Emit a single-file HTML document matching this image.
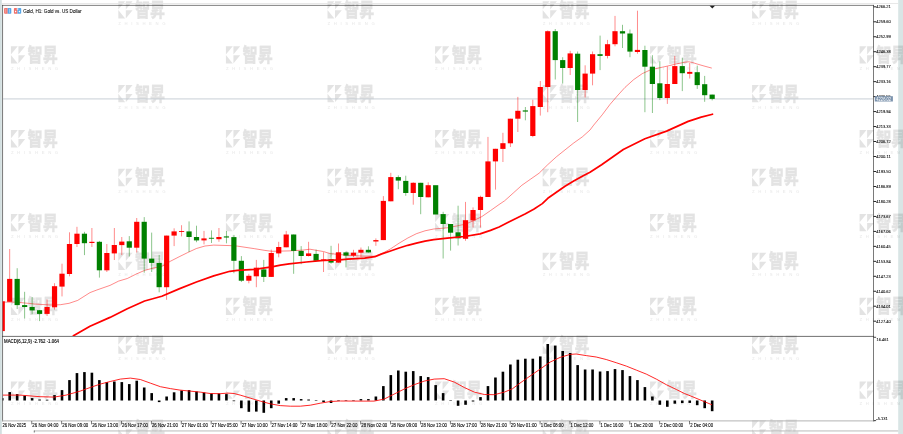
<!DOCTYPE html>
<html lang="en"><head><meta charset="utf-8"><title>Gold, H1: Gold vs. US Dollar</title>
<style>html,body{margin:0;padding:0;background:#fff;width:903px;height:434px;overflow:hidden}svg{display:block}text{font-family:"Liberation Sans","Noto Sans CJK SC",sans-serif}</style>
</head><body>
<svg width="903" height="434" viewBox="0 0 903 434">
<defs>
<g id="wm" class="wm" opacity="0.105">
<path d="M0 0H6.9L0 8.3Z M0 8.7L6.9 17.3H0Z M7.5 0H14.3L7.5 8.3Z M7.5 9H14.3L7.5 17.3Z"/>
<text transform="translate(16.7,15.6) scale(0.93,1.33)" font-size="14.6" font-weight="900" stroke="#000" stroke-width="0.25" textLength="32.4" lengthAdjust="spacingAndGlyphs">智昇</text>
<text x="0" y="23.7" font-size="4.3" font-weight="700" font-family="Liberation Sans" textLength="47.3" lengthAdjust="spacing" fill-opacity="0.75">ZHISHENG</text>
</g>
<filter id="bl" x="0" y="0" width="903" height="434" filterUnits="userSpaceOnUse"><feGaussianBlur stdDeviation="0.3"/></filter>
</defs>
<g filter="url(#bl)">
<rect width="903" height="434" fill="#fff"/>
<rect x="0" y="0" width="1.8" height="434" fill="#d3dfe0"/>
<rect x="898.2" y="0" width="4.8" height="434" fill="#d9e5e5"/>
<clipPath id="cw"><rect x="0" y="0" width="903" height="434"/></clipPath>
<g clip-path="url(#cw)">
<use href="#wm" x="10.90" y="46.30"/>
<use href="#wm" x="225.90" y="46.30"/>
<use href="#wm" x="435.06" y="46.30"/>
<use href="#wm" x="650.06" y="46.30"/>
<use href="#wm" x="859.60" y="46.30"/>
<use href="#wm" x="10.90" y="130.10"/>
<use href="#wm" x="225.90" y="130.10"/>
<use href="#wm" x="435.06" y="130.10"/>
<use href="#wm" x="650.06" y="130.10"/>
<use href="#wm" x="859.60" y="130.10"/>
<use href="#wm" x="10.90" y="213.90"/>
<use href="#wm" x="225.90" y="213.90"/>
<use href="#wm" x="435.06" y="213.90"/>
<use href="#wm" x="650.06" y="213.90"/>
<use href="#wm" x="859.60" y="213.90"/>
<use href="#wm" x="10.90" y="297.70"/>
<use href="#wm" x="225.90" y="297.70"/>
<use href="#wm" x="435.06" y="297.70"/>
<use href="#wm" x="650.06" y="297.70"/>
<use href="#wm" x="859.60" y="297.70"/>
<use href="#wm" x="10.90" y="381.50"/>
<use href="#wm" x="225.90" y="381.50"/>
<use href="#wm" x="435.06" y="381.50"/>
<use href="#wm" x="650.06" y="381.50"/>
<use href="#wm" x="859.60" y="381.50"/>
<use href="#wm" x="118.30" y="1.26"/>
<use href="#wm" x="327.50" y="1.26"/>
<use href="#wm" x="542.66" y="1.26"/>
<use href="#wm" x="752.05" y="1.26"/>
<use href="#wm" x="118.30" y="85.06"/>
<use href="#wm" x="327.50" y="85.06"/>
<use href="#wm" x="542.66" y="85.06"/>
<use href="#wm" x="752.05" y="85.06"/>
<use href="#wm" x="118.30" y="168.86"/>
<use href="#wm" x="327.50" y="168.86"/>
<use href="#wm" x="542.66" y="168.86"/>
<use href="#wm" x="752.05" y="168.86"/>
<use href="#wm" x="118.30" y="252.66"/>
<use href="#wm" x="327.50" y="252.66"/>
<use href="#wm" x="542.66" y="252.66"/>
<use href="#wm" x="752.05" y="252.66"/>
<use href="#wm" x="118.30" y="336.46"/>
<use href="#wm" x="327.50" y="336.46"/>
<use href="#wm" x="542.66" y="336.46"/>
<use href="#wm" x="752.05" y="336.46"/>
<use href="#wm" x="118.30" y="420.26"/>
<use href="#wm" x="327.50" y="420.26"/>
<use href="#wm" x="542.66" y="420.26"/>
<use href="#wm" x="752.05" y="420.26"/>
</g>
<rect x="2" y="3.1" width="896.2" height="0.9" fill="#e6e6e6"/>
<g fill="#000" fill-opacity="0.62">
<rect x="2.2" y="4.9" width="0.85" height="416.5"/>
<rect x="2.2" y="4.9" width="871.6" height="0.8"/>
<rect x="873.05" y="4.9" width="0.85" height="416.5"/>
<rect x="2.2" y="335.9" width="871.6" height="0.9"/>
</g>
<rect x="2.2" y="420.4" width="872.5" height="1.0" fill="#b4b4b4"/>
<rect x="34" y="430.5" width="864.2" height="0.9" fill="#b4b4b4"/>
<rect x="33.8" y="430.5" width="0.9" height="2" fill="#666"/>
<rect x="3" y="98.45" width="870" height="0.95" fill="#c5ccd4"/>
<clipPath id="cm"><rect x="2.7" y="5.7" width="870.3" height="330.2"/></clipPath>
<g clip-path="url(#cm)">
<polyline points="2.8,302.1 17.0,302.2 34.5,304.0 51.8,305.1 60.5,304.7 69.1,303.3 77.7,300.4 90.0,292.6 96.8,290.0 110.0,285.4 118.6,281.1 127.3,278.5 135.9,274.2 144.6,270.4 153.2,268.1 161.8,266.4 170.5,261.2 179.1,256.8 187.8,252.5 196.4,248.5 205.0,246.0 213.7,245.1 229.9,245.6 237.3,246.1 254.6,248.7 264.9,250.4 271.8,251.3 289.1,250.9 302.9,250.1 309.9,249.2 323.7,251.6 330.0,253.6 347.3,255.3 364.6,256.2 374.9,256.2 381.8,253.6 390.5,248.9 399.1,243.2 407.8,238.0 416.4,233.7 425.0,230.8 433.7,229.0 447.3,227.8 464.6,224.4 473.2,220.9 481.8,216.6 490.5,210.6 499.1,204.5 504.6,200.8 513.2,193.1 521.8,185.3 530.5,179.2 539.1,173.2 547.8,164.6 556.4,156.8 565.0,149.9 573.7,143.0 582.3,136.9 590.0,130.0 593.7,125.1 602.3,114.7 610.0,104.4 618.1,95.0 625.0,87.4 633.7,79.6 642.3,73.6 650.4,69.9 659.1,67.9 667.8,66.0 676.4,63.9 681.0,63.0 685.0,62.2 688.8,61.8 692.5,62.5 697.1,64.0 704.0,66.0 711.8,68.1" fill="none" stroke="#ff0000" stroke-opacity="0.62" stroke-width="0.75" stroke-linejoin="round"/>
<rect x="-0.37" y="301.3" width="5.2" height="29.8" fill="#ff0000"/>
<rect x="9.25" y="249.0" width="0.9" height="53.0" fill="#ff0000" fill-opacity="0.5"/>
<rect x="7.10" y="278.9" width="5.2" height="22.9" fill="#ff0000"/>
<rect x="16.72" y="268.2" width="0.9" height="40.8" fill="#008000" fill-opacity="0.5"/>
<rect x="14.57" y="278.9" width="5.2" height="26.2" fill="#008000"/>
<rect x="24.20" y="291.8" width="0.9" height="26.7" fill="#008000" fill-opacity="0.5"/>
<rect x="22.05" y="305.1" width="5.2" height="1.9" fill="#008000"/>
<rect x="31.67" y="297.0" width="0.9" height="17.2" fill="#008000" fill-opacity="0.5"/>
<rect x="29.52" y="307.0" width="5.2" height="3.4" fill="#008000"/>
<rect x="39.14" y="310.0" width="0.9" height="11.1" fill="#008000" fill-opacity="0.5"/>
<rect x="36.99" y="310.2" width="5.2" height="3.7" fill="#008000"/>
<rect x="46.61" y="299.5" width="0.9" height="16.5" fill="#ff0000" fill-opacity="0.5"/>
<rect x="44.46" y="307.0" width="5.2" height="6.9" fill="#ff0000"/>
<rect x="54.09" y="283.2" width="0.9" height="26.4" fill="#ff0000" fill-opacity="0.5"/>
<rect x="51.94" y="286.2" width="5.2" height="21.1" fill="#ff0000"/>
<rect x="61.56" y="263.7" width="0.9" height="32.7" fill="#ff0000" fill-opacity="0.5"/>
<rect x="59.41" y="273.7" width="5.2" height="12.9" fill="#ff0000"/>
<rect x="69.03" y="232.3" width="0.9" height="44.0" fill="#ff0000" fill-opacity="0.5"/>
<rect x="66.88" y="244.0" width="5.2" height="30.0" fill="#ff0000"/>
<rect x="76.51" y="226.8" width="0.9" height="20.2" fill="#ff0000" fill-opacity="0.5"/>
<rect x="74.36" y="233.7" width="5.2" height="10.3" fill="#ff0000"/>
<rect x="83.98" y="231.8" width="0.9" height="23.3" fill="#008000" fill-opacity="0.5"/>
<rect x="81.83" y="233.7" width="5.2" height="9.5" fill="#008000"/>
<rect x="91.45" y="228.0" width="0.9" height="19.0" fill="#ff0000" fill-opacity="0.5"/>
<rect x="89.30" y="241.8" width="5.2" height="1.2" fill="#ff0000"/>
<rect x="98.93" y="240.9" width="0.9" height="36.7" fill="#008000" fill-opacity="0.5"/>
<rect x="96.78" y="241.8" width="5.2" height="28.5" fill="#008000"/>
<rect x="106.40" y="244.0" width="0.9" height="28.0" fill="#ff0000" fill-opacity="0.5"/>
<rect x="104.25" y="253.0" width="5.2" height="17.3" fill="#ff0000"/>
<rect x="113.87" y="228.0" width="0.9" height="32.0" fill="#ff0000" fill-opacity="0.5"/>
<rect x="111.72" y="245.0" width="5.2" height="8.4" fill="#ff0000"/>
<rect x="121.34" y="237.0" width="0.9" height="18.1" fill="#ff0000" fill-opacity="0.5"/>
<rect x="119.20" y="241.6" width="5.2" height="3.5" fill="#ff0000"/>
<rect x="128.82" y="236.1" width="0.9" height="20.4" fill="#008000" fill-opacity="0.5"/>
<rect x="126.67" y="241.3" width="5.2" height="6.4" fill="#008000"/>
<rect x="136.29" y="218.0" width="0.9" height="34.5" fill="#ff0000" fill-opacity="0.5"/>
<rect x="134.14" y="221.8" width="5.2" height="25.9" fill="#ff0000"/>
<rect x="143.76" y="217.1" width="0.9" height="55.6" fill="#008000" fill-opacity="0.5"/>
<rect x="141.61" y="221.8" width="5.2" height="36.8" fill="#008000"/>
<rect x="151.24" y="232.6" width="0.9" height="39.4" fill="#008000" fill-opacity="0.5"/>
<rect x="149.09" y="258.6" width="5.2" height="4.3" fill="#008000"/>
<rect x="158.71" y="254.9" width="0.9" height="37.4" fill="#008000" fill-opacity="0.5"/>
<rect x="156.56" y="262.9" width="5.2" height="24.3" fill="#008000"/>
<rect x="166.18" y="235.6" width="0.9" height="64.2" fill="#ff0000" fill-opacity="0.5"/>
<rect x="164.03" y="235.6" width="5.2" height="51.6" fill="#ff0000"/>
<rect x="173.66" y="228.3" width="0.9" height="17.8" fill="#ff0000" fill-opacity="0.5"/>
<rect x="171.51" y="231.4" width="5.2" height="4.2" fill="#ff0000"/>
<rect x="181.13" y="225.2" width="0.9" height="11.2" fill="#ff0000" fill-opacity="0.5"/>
<rect x="178.98" y="231.0" width="5.2" height="0.9" fill="#ff0000"/>
<rect x="188.60" y="221.4" width="0.9" height="30.6" fill="#008000" fill-opacity="0.5"/>
<rect x="186.45" y="231.4" width="5.2" height="5.6" fill="#008000"/>
<rect x="196.07" y="225.7" width="0.9" height="16.5" fill="#008000" fill-opacity="0.5"/>
<rect x="193.92" y="237.0" width="5.2" height="3.4" fill="#008000"/>
<rect x="203.55" y="230.9" width="0.9" height="13.5" fill="#ff0000" fill-opacity="0.5"/>
<rect x="201.40" y="238.4" width="5.2" height="2.0" fill="#ff0000"/>
<rect x="211.02" y="230.4" width="0.9" height="12.6" fill="#008000" fill-opacity="0.5"/>
<rect x="208.87" y="237.8" width="5.2" height="0.9" fill="#008000"/>
<rect x="218.49" y="228.0" width="0.9" height="13.8" fill="#ff0000" fill-opacity="0.5"/>
<rect x="216.34" y="237.0" width="5.2" height="2.2" fill="#ff0000"/>
<rect x="225.97" y="231.0" width="0.9" height="12.3" fill="#008000" fill-opacity="0.5"/>
<rect x="223.82" y="236.4" width="5.2" height="1.1" fill="#008000"/>
<rect x="233.44" y="234.9" width="0.9" height="38.3" fill="#008000" fill-opacity="0.5"/>
<rect x="231.29" y="237.1" width="5.2" height="23.7" fill="#008000"/>
<rect x="240.91" y="256.1" width="0.9" height="25.9" fill="#008000" fill-opacity="0.5"/>
<rect x="238.76" y="260.8" width="5.2" height="19.9" fill="#008000"/>
<rect x="248.39" y="273.8" width="0.9" height="9.5" fill="#ff0000" fill-opacity="0.5"/>
<rect x="246.24" y="275.8" width="5.2" height="4.9" fill="#ff0000"/>
<rect x="255.86" y="259.9" width="0.9" height="27.3" fill="#ff0000" fill-opacity="0.5"/>
<rect x="253.71" y="267.7" width="5.2" height="8.6" fill="#ff0000"/>
<rect x="263.33" y="259.9" width="0.9" height="22.1" fill="#008000" fill-opacity="0.5"/>
<rect x="261.18" y="269.4" width="5.2" height="7.5" fill="#008000"/>
<rect x="270.81" y="249.6" width="0.9" height="27.3" fill="#ff0000" fill-opacity="0.5"/>
<rect x="268.65" y="253.0" width="5.2" height="23.9" fill="#ff0000"/>
<rect x="278.28" y="241.8" width="0.9" height="15.5" fill="#ff0000" fill-opacity="0.5"/>
<rect x="276.13" y="247.0" width="5.2" height="6.4" fill="#ff0000"/>
<rect x="285.75" y="230.9" width="0.9" height="16.4" fill="#ff0000" fill-opacity="0.5"/>
<rect x="283.60" y="234.5" width="5.2" height="12.8" fill="#ff0000"/>
<rect x="293.22" y="234.5" width="0.9" height="39.3" fill="#008000" fill-opacity="0.5"/>
<rect x="291.07" y="234.5" width="5.2" height="16.4" fill="#008000"/>
<rect x="300.70" y="246.1" width="0.9" height="18.1" fill="#008000" fill-opacity="0.5"/>
<rect x="298.55" y="250.9" width="5.2" height="5.1" fill="#008000"/>
<rect x="308.17" y="241.8" width="0.9" height="14.7" fill="#ff0000" fill-opacity="0.5"/>
<rect x="306.02" y="253.4" width="5.2" height="2.6" fill="#ff0000"/>
<rect x="315.64" y="249.6" width="0.9" height="12.1" fill="#008000" fill-opacity="0.5"/>
<rect x="313.49" y="253.9" width="5.2" height="6.9" fill="#008000"/>
<rect x="323.12" y="252.2" width="0.9" height="19.8" fill="#ff0000" fill-opacity="0.5"/>
<rect x="320.97" y="259.4" width="5.2" height="1.4" fill="#ff0000"/>
<rect x="330.59" y="245.8" width="0.9" height="17.9" fill="#008000" fill-opacity="0.5"/>
<rect x="328.44" y="259.2" width="5.2" height="3.4" fill="#008000"/>
<rect x="338.06" y="243.5" width="0.9" height="19.5" fill="#ff0000" fill-opacity="0.5"/>
<rect x="335.91" y="252.3" width="5.2" height="10.3" fill="#ff0000"/>
<rect x="345.53" y="251.5" width="0.9" height="15.9" fill="#008000" fill-opacity="0.5"/>
<rect x="343.38" y="252.4" width="5.2" height="3.2" fill="#008000"/>
<rect x="353.01" y="249.8" width="0.9" height="7.2" fill="#ff0000" fill-opacity="0.5"/>
<rect x="350.86" y="252.7" width="5.2" height="2.9" fill="#ff0000"/>
<rect x="360.48" y="247.5" width="0.9" height="9.5" fill="#ff0000" fill-opacity="0.5"/>
<rect x="358.33" y="249.8" width="5.2" height="2.9" fill="#ff0000"/>
<rect x="367.95" y="246.3" width="0.9" height="6.4" fill="#008000" fill-opacity="0.5"/>
<rect x="365.80" y="249.8" width="5.2" height="2.6" fill="#008000"/>
<rect x="375.43" y="238.4" width="0.9" height="7.4" fill="#ff0000" fill-opacity="0.5"/>
<rect x="373.28" y="240.1" width="5.2" height="1.4" fill="#ff0000"/>
<rect x="382.90" y="196.1" width="0.9" height="44.0" fill="#ff0000" fill-opacity="0.5"/>
<rect x="380.75" y="200.9" width="5.2" height="39.2" fill="#ff0000"/>
<rect x="390.37" y="172.8" width="0.9" height="28.5" fill="#ff0000" fill-opacity="0.5"/>
<rect x="388.22" y="177.1" width="5.2" height="24.2" fill="#ff0000"/>
<rect x="397.85" y="175.4" width="0.9" height="13.8" fill="#008000" fill-opacity="0.5"/>
<rect x="395.70" y="177.1" width="5.2" height="3.5" fill="#008000"/>
<rect x="405.32" y="175.7" width="0.9" height="20.1" fill="#008000" fill-opacity="0.5"/>
<rect x="403.17" y="180.9" width="5.2" height="12.1" fill="#008000"/>
<rect x="412.79" y="182.3" width="0.9" height="22.4" fill="#ff0000" fill-opacity="0.5"/>
<rect x="410.64" y="182.8" width="5.2" height="10.2" fill="#ff0000"/>
<rect x="420.26" y="182.8" width="0.9" height="31.4" fill="#008000" fill-opacity="0.5"/>
<rect x="418.11" y="182.8" width="5.2" height="14.2" fill="#008000"/>
<rect x="427.74" y="182.3" width="0.9" height="15.0" fill="#ff0000" fill-opacity="0.5"/>
<rect x="425.59" y="185.2" width="5.2" height="12.1" fill="#ff0000"/>
<rect x="433.06" y="185.2" width="5.2" height="29.3" fill="#008000"/>
<rect x="442.68" y="211.8" width="0.9" height="46.7" fill="#008000" fill-opacity="0.5"/>
<rect x="440.53" y="214.1" width="5.2" height="9.9" fill="#008000"/>
<rect x="450.16" y="224.0" width="0.9" height="26.6" fill="#008000" fill-opacity="0.5"/>
<rect x="448.01" y="224.0" width="5.2" height="8.7" fill="#008000"/>
<rect x="457.63" y="205.7" width="0.9" height="39.8" fill="#008000" fill-opacity="0.5"/>
<rect x="455.48" y="232.3" width="5.2" height="6.0" fill="#008000"/>
<rect x="465.10" y="201.9" width="0.9" height="38.9" fill="#ff0000" fill-opacity="0.5"/>
<rect x="462.95" y="220.2" width="5.2" height="18.6" fill="#ff0000"/>
<rect x="472.58" y="207.4" width="0.9" height="20.1" fill="#ff0000" fill-opacity="0.5"/>
<rect x="470.43" y="210.0" width="5.2" height="10.4" fill="#ff0000"/>
<rect x="480.05" y="195.7" width="0.9" height="31.8" fill="#ff0000" fill-opacity="0.5"/>
<rect x="477.90" y="196.9" width="5.2" height="13.1" fill="#ff0000"/>
<rect x="487.52" y="136.9" width="0.9" height="60.1" fill="#ff0000" fill-opacity="0.5"/>
<rect x="485.37" y="161.4" width="5.2" height="35.6" fill="#ff0000"/>
<rect x="495.00" y="148.8" width="0.9" height="40.8" fill="#ff0000" fill-opacity="0.5"/>
<rect x="492.84" y="148.8" width="5.2" height="12.6" fill="#ff0000"/>
<rect x="502.47" y="132.8" width="0.9" height="29.2" fill="#ff0000" fill-opacity="0.5"/>
<rect x="500.32" y="143.2" width="5.2" height="5.7" fill="#ff0000"/>
<rect x="509.94" y="118.7" width="0.9" height="28.3" fill="#ff0000" fill-opacity="0.5"/>
<rect x="507.79" y="118.7" width="5.2" height="24.6" fill="#ff0000"/>
<rect x="517.41" y="96.9" width="0.9" height="35.1" fill="#ff0000" fill-opacity="0.5"/>
<rect x="515.26" y="110.8" width="5.2" height="7.9" fill="#ff0000"/>
<rect x="524.89" y="107.0" width="0.9" height="13.3" fill="#008000" fill-opacity="0.5"/>
<rect x="522.74" y="110.4" width="5.2" height="1.2" fill="#008000"/>
<rect x="532.36" y="99.7" width="0.9" height="37.5" fill="#ff0000" fill-opacity="0.5"/>
<rect x="530.21" y="106.1" width="5.2" height="29.9" fill="#ff0000"/>
<rect x="539.83" y="81.0" width="0.9" height="34.6" fill="#ff0000" fill-opacity="0.5"/>
<rect x="537.68" y="87.0" width="5.2" height="20.0" fill="#ff0000"/>
<rect x="547.31" y="30.4" width="0.9" height="81.8" fill="#ff0000" fill-opacity="0.5"/>
<rect x="545.16" y="31.2" width="5.2" height="55.8" fill="#ff0000"/>
<rect x="554.78" y="29.0" width="0.9" height="50.5" fill="#008000" fill-opacity="0.5"/>
<rect x="552.63" y="31.2" width="5.2" height="28.9" fill="#008000"/>
<rect x="562.25" y="57.2" width="0.9" height="26.4" fill="#008000" fill-opacity="0.5"/>
<rect x="560.10" y="60.1" width="5.2" height="7.9" fill="#008000"/>
<rect x="569.73" y="50.8" width="0.9" height="24.2" fill="#ff0000" fill-opacity="0.5"/>
<rect x="567.58" y="53.4" width="5.2" height="14.6" fill="#ff0000"/>
<rect x="577.20" y="51.5" width="0.9" height="70.5" fill="#008000" fill-opacity="0.5"/>
<rect x="575.05" y="53.7" width="5.2" height="36.3" fill="#008000"/>
<rect x="584.67" y="65.3" width="0.9" height="32.2" fill="#ff0000" fill-opacity="0.5"/>
<rect x="582.52" y="73.6" width="5.2" height="16.4" fill="#ff0000"/>
<rect x="592.14" y="51.5" width="0.9" height="33.8" fill="#ff0000" fill-opacity="0.5"/>
<rect x="589.99" y="54.2" width="5.2" height="19.4" fill="#ff0000"/>
<rect x="599.62" y="35.6" width="0.9" height="34.5" fill="#008000" fill-opacity="0.5"/>
<rect x="597.47" y="54.2" width="5.2" height="1.7" fill="#008000"/>
<rect x="607.09" y="39.9" width="0.9" height="18.5" fill="#ff0000" fill-opacity="0.5"/>
<rect x="604.94" y="44.2" width="5.2" height="11.7" fill="#ff0000"/>
<rect x="614.56" y="15.9" width="0.9" height="30.4" fill="#ff0000" fill-opacity="0.5"/>
<rect x="612.41" y="31.2" width="5.2" height="13.0" fill="#ff0000"/>
<rect x="622.04" y="24.8" width="0.9" height="23.2" fill="#008000" fill-opacity="0.5"/>
<rect x="619.89" y="31.2" width="5.2" height="2.3" fill="#008000"/>
<rect x="629.51" y="29.5" width="0.9" height="27.7" fill="#008000" fill-opacity="0.5"/>
<rect x="627.36" y="33.5" width="5.2" height="18.1" fill="#008000"/>
<rect x="636.98" y="10.7" width="0.9" height="43.0" fill="#ff0000" fill-opacity="0.5"/>
<rect x="634.83" y="49.9" width="5.2" height="2.1" fill="#ff0000"/>
<rect x="644.46" y="45.7" width="0.9" height="66.5" fill="#008000" fill-opacity="0.5"/>
<rect x="642.31" y="50.0" width="5.2" height="16.7" fill="#008000"/>
<rect x="651.93" y="55.2" width="0.9" height="57.8" fill="#008000" fill-opacity="0.5"/>
<rect x="649.78" y="66.7" width="5.2" height="17.3" fill="#008000"/>
<rect x="659.40" y="61.2" width="0.9" height="38.9" fill="#008000" fill-opacity="0.5"/>
<rect x="657.25" y="83.3" width="5.2" height="14.7" fill="#008000"/>
<rect x="666.87" y="66.4" width="0.9" height="37.5" fill="#ff0000" fill-opacity="0.5"/>
<rect x="664.72" y="84.0" width="5.2" height="14.0" fill="#ff0000"/>
<rect x="674.35" y="56.0" width="0.9" height="28.0" fill="#ff0000" fill-opacity="0.5"/>
<rect x="672.20" y="66.1" width="5.2" height="17.9" fill="#ff0000"/>
<rect x="681.82" y="57.8" width="0.9" height="33.3" fill="#008000" fill-opacity="0.5"/>
<rect x="679.67" y="66.1" width="5.2" height="7.1" fill="#008000"/>
<rect x="689.29" y="63.0" width="0.9" height="15.5" fill="#ff0000" fill-opacity="0.5"/>
<rect x="687.14" y="71.9" width="5.2" height="1.9" fill="#ff0000"/>
<rect x="696.77" y="65.6" width="0.9" height="23.3" fill="#008000" fill-opacity="0.5"/>
<rect x="694.62" y="72.2" width="5.2" height="12.9" fill="#008000"/>
<rect x="704.24" y="75.9" width="0.9" height="25.9" fill="#008000" fill-opacity="0.5"/>
<rect x="702.09" y="84.2" width="5.2" height="11.0" fill="#008000"/>
<rect x="711.71" y="94.6" width="0.9" height="5.8" fill="#008000" fill-opacity="0.5"/>
<rect x="709.56" y="94.6" width="5.2" height="4.3" fill="#008000"/>
<polyline points="73.4,335.8 90.0,326.3 110.0,317.4 127.3,308.8 144.6,301.0 161.8,296.3 179.1,288.9 196.4,282.0 213.7,275.9 229.9,271.3 237.3,270.3 254.6,269.4 271.8,266.8 280.5,265.1 289.1,263.9 306.4,262.0 323.7,260.3 340.0,259.8 347.3,259.1 364.6,258.2 374.9,256.7 381.8,253.9 390.5,251.0 399.1,248.0 407.8,245.3 416.4,243.2 425.0,241.1 433.7,239.6 447.3,238.2 464.6,236.5 480.1,233.9 490.5,230.4 499.1,227.0 507.8,222.6 516.4,218.3 525.0,214.0 533.7,209.3 542.3,203.6 547.8,198.3 556.4,192.2 565.0,186.2 573.7,181.0 582.3,176.3 590.0,172.3 601.6,164.7 623.3,149.5 644.9,138.7 666.6,131.1 688.2,121.4 701.2,117.1 712.5,114.2" fill="none" stroke="#ff0000" stroke-width="1.7" stroke-linejoin="round" stroke-linecap="round"/>
</g>
<clipPath id="cd"><rect x="2.7" y="336.8" width="870.3" height="83.6"/></clipPath>
<g clip-path="url(#cd)">
<rect x="0.93" y="398.1" width="2.6" height="2.4" fill="#000"/>
<rect x="8.40" y="392.1" width="2.6" height="8.4" fill="#000"/>
<rect x="15.87" y="394.1" width="2.6" height="6.4" fill="#000"/>
<rect x="23.35" y="395.7" width="2.6" height="4.8" fill="#000"/>
<rect x="30.82" y="398.1" width="2.6" height="2.4" fill="#000"/>
<rect x="38.29" y="399.5" width="2.6" height="1.0" fill="#000"/>
<rect x="45.77" y="399.7" width="2.6" height="0.8" fill="#000"/>
<rect x="53.24" y="395.1" width="2.6" height="5.4" fill="#000"/>
<rect x="60.71" y="390.1" width="2.6" height="10.4" fill="#000"/>
<rect x="68.18" y="380.1" width="2.6" height="20.4" fill="#000"/>
<rect x="75.66" y="373.1" width="2.6" height="27.4" fill="#000"/>
<rect x="83.13" y="372.1" width="2.6" height="28.4" fill="#000"/>
<rect x="90.60" y="372.7" width="2.6" height="27.8" fill="#000"/>
<rect x="98.08" y="380.1" width="2.6" height="20.4" fill="#000"/>
<rect x="105.55" y="382.1" width="2.6" height="18.4" fill="#000"/>
<rect x="113.02" y="381.5" width="2.6" height="19.0" fill="#000"/>
<rect x="120.50" y="382.1" width="2.6" height="18.4" fill="#000"/>
<rect x="127.97" y="384.1" width="2.6" height="16.4" fill="#000"/>
<rect x="135.44" y="380.7" width="2.6" height="19.8" fill="#000"/>
<rect x="142.91" y="387.5" width="2.6" height="13.0" fill="#000"/>
<rect x="150.39" y="393.1" width="2.6" height="7.4" fill="#000"/>
<rect x="157.86" y="400.5" width="2.6" height="1.6" fill="#000"/>
<rect x="165.33" y="396.5" width="2.6" height="4.0" fill="#000"/>
<rect x="172.81" y="392.3" width="2.6" height="8.2" fill="#000"/>
<rect x="180.28" y="390.5" width="2.6" height="10.0" fill="#000"/>
<rect x="187.75" y="390.1" width="2.6" height="10.4" fill="#000"/>
<rect x="195.22" y="391.5" width="2.6" height="9.0" fill="#000"/>
<rect x="202.70" y="392.5" width="2.6" height="8.0" fill="#000"/>
<rect x="210.17" y="393.5" width="2.6" height="7.0" fill="#000"/>
<rect x="217.64" y="393.5" width="2.6" height="7.0" fill="#000"/>
<rect x="225.12" y="394.1" width="2.6" height="6.4" fill="#000"/>
<rect x="232.59" y="400.5" width="2.6" height="0.7" fill="#000"/>
<rect x="240.06" y="400.5" width="2.6" height="7.7" fill="#000"/>
<rect x="247.54" y="400.5" width="2.6" height="11.3" fill="#000"/>
<rect x="255.01" y="400.5" width="2.6" height="11.1" fill="#000"/>
<rect x="262.48" y="400.5" width="2.6" height="12.3" fill="#000"/>
<rect x="269.95" y="400.5" width="2.6" height="7.7" fill="#000"/>
<rect x="277.43" y="400.5" width="2.6" height="3.2" fill="#000"/>
<rect x="284.90" y="398.1" width="2.6" height="2.4" fill="#000"/>
<rect x="292.37" y="398.1" width="2.6" height="2.4" fill="#000"/>
<rect x="299.85" y="399.1" width="2.6" height="1.4" fill="#000"/>
<rect x="307.32" y="399.5" width="2.6" height="1.0" fill="#000"/>
<rect x="314.79" y="400.0" width="2.6" height="0.5" fill="#000"/>
<rect x="322.27" y="400.5" width="2.6" height="1.6" fill="#000"/>
<rect x="329.74" y="400.5" width="2.6" height="2.5" fill="#000"/>
<rect x="337.21" y="400.5" width="2.6" height="0.5" fill="#000"/>
<rect x="344.68" y="400.1" width="2.6" height="0.8" fill="#000" fill-opacity="0.6"/>
<rect x="352.16" y="400.1" width="2.6" height="0.8" fill="#000" fill-opacity="0.6"/>
<rect x="359.63" y="399.1" width="2.6" height="1.4" fill="#000"/>
<rect x="367.10" y="399.1" width="2.6" height="1.4" fill="#000"/>
<rect x="374.58" y="396.5" width="2.6" height="4.0" fill="#000"/>
<rect x="382.05" y="386.1" width="2.6" height="14.4" fill="#000"/>
<rect x="389.52" y="375.1" width="2.6" height="25.4" fill="#000"/>
<rect x="397.00" y="370.5" width="2.6" height="30.0" fill="#000"/>
<rect x="404.47" y="371.7" width="2.6" height="28.8" fill="#000"/>
<rect x="411.94" y="371.1" width="2.6" height="29.4" fill="#000"/>
<rect x="419.41" y="376.1" width="2.6" height="24.4" fill="#000"/>
<rect x="426.89" y="377.1" width="2.6" height="23.4" fill="#000"/>
<rect x="434.36" y="385.1" width="2.6" height="15.4" fill="#000"/>
<rect x="441.83" y="393.1" width="2.6" height="7.4" fill="#000"/>
<rect x="449.31" y="400.1" width="2.6" height="0.8" fill="#000" fill-opacity="0.6"/>
<rect x="456.78" y="400.5" width="2.6" height="5.3" fill="#000"/>
<rect x="464.25" y="400.5" width="2.6" height="4.3" fill="#000"/>
<rect x="471.73" y="400.5" width="2.6" height="1.0" fill="#000"/>
<rect x="479.20" y="397.1" width="2.6" height="3.4" fill="#000"/>
<rect x="486.67" y="386.1" width="2.6" height="14.4" fill="#000"/>
<rect x="494.14" y="377.5" width="2.6" height="23.0" fill="#000"/>
<rect x="501.62" y="371.7" width="2.6" height="28.8" fill="#000"/>
<rect x="509.09" y="364.5" width="2.6" height="36.0" fill="#000"/>
<rect x="516.56" y="359.7" width="2.6" height="40.8" fill="#000"/>
<rect x="524.04" y="358.7" width="2.6" height="41.8" fill="#000"/>
<rect x="531.51" y="358.7" width="2.6" height="41.8" fill="#000"/>
<rect x="538.98" y="356.4" width="2.6" height="44.1" fill="#000"/>
<rect x="546.46" y="344.0" width="2.6" height="56.5" fill="#000"/>
<rect x="553.93" y="345.6" width="2.6" height="54.9" fill="#000"/>
<rect x="561.40" y="351.0" width="2.6" height="49.5" fill="#000"/>
<rect x="568.88" y="353.0" width="2.6" height="47.5" fill="#000"/>
<rect x="576.35" y="365.1" width="2.6" height="35.4" fill="#000"/>
<rect x="583.82" y="369.5" width="2.6" height="31.0" fill="#000"/>
<rect x="591.29" y="369.5" width="2.6" height="31.0" fill="#000"/>
<rect x="598.77" y="371.5" width="2.6" height="29.0" fill="#000"/>
<rect x="606.24" y="371.1" width="2.6" height="29.4" fill="#000"/>
<rect x="613.71" y="369.1" width="2.6" height="31.4" fill="#000"/>
<rect x="621.19" y="370.1" width="2.6" height="30.4" fill="#000"/>
<rect x="628.66" y="376.1" width="2.6" height="24.4" fill="#000"/>
<rect x="636.13" y="380.1" width="2.6" height="20.4" fill="#000"/>
<rect x="643.61" y="387.1" width="2.6" height="13.4" fill="#000"/>
<rect x="651.08" y="396.5" width="2.6" height="4.0" fill="#000"/>
<rect x="658.55" y="400.5" width="2.6" height="4.3" fill="#000"/>
<rect x="666.02" y="400.5" width="2.6" height="6.3" fill="#000"/>
<rect x="673.50" y="400.5" width="2.6" height="3.2" fill="#000"/>
<rect x="680.97" y="400.5" width="2.6" height="2.6" fill="#000"/>
<rect x="688.44" y="400.5" width="2.6" height="2.4" fill="#000"/>
<rect x="695.92" y="400.5" width="2.6" height="4.7" fill="#000"/>
<rect x="703.39" y="400.5" width="2.6" height="7.7" fill="#000"/>
<rect x="710.86" y="400.5" width="2.6" height="10.7" fill="#000"/>
<polyline points="2.8,395.1 20.0,395.1 40.1,396.7 54.1,397.1 66.1,395.1 80.2,391.1 90.2,387.5 100.2,384.1 110.2,381.5 120.3,379.1 130.3,378.1 140.3,379.5 150.3,383.1 160.4,386.7 170.4,388.6 180.0,390.1 190.0,391.1 200.1,392.1 210.1,393.5 220.1,393.7 228.1,393.1 234.1,393.5 240.2,395.1 250.2,398.1 260.2,401.1 270.2,403.8 280.2,405.6 290.3,406.2 300.3,406.2 310.3,405.2 320.3,403.2 330.4,401.5 340.4,401.0 360.0,401.1 374.1,401.1 384.1,399.1 394.1,394.1 404.1,389.1 414.2,384.7 424.2,381.1 434.2,379.1 444.2,378.7 454.3,382.1 464.3,387.5 474.3,392.1 484.3,394.5 494.3,394.7 504.4,392.1 512.4,388.8 520.0,383.1 530.0,376.1 540.1,369.1 550.1,362.1 560.1,357.4 570.1,354.4 576.1,354.0 586.2,355.6 596.2,357.0 606.2,359.5 616.2,362.7 626.3,366.1 636.3,370.1 646.3,374.1 656.3,379.1 666.3,384.7 676.4,389.5 684.4,393.5 690.0,395.7 712.0,404.8" fill="none" stroke="#ff0000" stroke-width="0.85" stroke-linejoin="round"/>
</g>
<g font-size="4.3" fill="#000" stroke="#000" stroke-width="0.07">
<rect x="873.5" y="6.40" width="2.6" height="0.9" fill="#000" fill-opacity="0.95" stroke="none"/>
<text x="876.2" y="8.35" textLength="14.6" lengthAdjust="spacingAndGlyphs">4266.21</text>
<rect x="873.5" y="21.37" width="2.6" height="0.9" fill="#000" fill-opacity="0.95" stroke="none"/>
<text x="876.2" y="23.32" textLength="14.6" lengthAdjust="spacingAndGlyphs">4259.60</text>
<rect x="873.5" y="36.33" width="2.6" height="0.9" fill="#000" fill-opacity="0.95" stroke="none"/>
<text x="876.2" y="38.28" textLength="14.6" lengthAdjust="spacingAndGlyphs">4252.99</text>
<rect x="873.5" y="51.30" width="2.6" height="0.9" fill="#000" fill-opacity="0.95" stroke="none"/>
<text x="876.2" y="53.25" textLength="14.6" lengthAdjust="spacingAndGlyphs">4246.38</text>
<rect x="873.5" y="66.27" width="2.6" height="0.9" fill="#000" fill-opacity="0.95" stroke="none"/>
<text x="876.2" y="68.22" textLength="14.6" lengthAdjust="spacingAndGlyphs">4239.77</text>
<rect x="873.5" y="81.23" width="2.6" height="0.9" fill="#000" fill-opacity="0.95" stroke="none"/>
<text x="876.2" y="83.19" textLength="14.6" lengthAdjust="spacingAndGlyphs">4233.16</text>
<rect x="873.5" y="96.20" width="2.6" height="0.9" fill="#000" fill-opacity="0.95" stroke="none"/>
<text x="876.2" y="98.15" textLength="14.6" lengthAdjust="spacingAndGlyphs">4226.55</text>
<rect x="873.5" y="111.17" width="2.6" height="0.9" fill="#000" fill-opacity="0.95" stroke="none"/>
<text x="876.2" y="113.12" textLength="14.6" lengthAdjust="spacingAndGlyphs">4219.94</text>
<rect x="873.5" y="126.14" width="2.6" height="0.9" fill="#000" fill-opacity="0.95" stroke="none"/>
<text x="876.2" y="128.09" textLength="14.6" lengthAdjust="spacingAndGlyphs">4213.33</text>
<rect x="873.5" y="141.10" width="2.6" height="0.9" fill="#000" fill-opacity="0.95" stroke="none"/>
<text x="876.2" y="143.05" textLength="14.6" lengthAdjust="spacingAndGlyphs">4206.72</text>
<rect x="873.5" y="156.07" width="2.6" height="0.9" fill="#000" fill-opacity="0.95" stroke="none"/>
<text x="876.2" y="158.02" textLength="14.6" lengthAdjust="spacingAndGlyphs">4200.11</text>
<rect x="873.5" y="171.04" width="2.6" height="0.9" fill="#000" fill-opacity="0.95" stroke="none"/>
<text x="876.2" y="172.99" textLength="14.6" lengthAdjust="spacingAndGlyphs">4193.50</text>
<rect x="873.5" y="186.00" width="2.6" height="0.9" fill="#000" fill-opacity="0.95" stroke="none"/>
<text x="876.2" y="187.95" textLength="14.6" lengthAdjust="spacingAndGlyphs">4186.89</text>
<rect x="873.5" y="200.97" width="2.6" height="0.9" fill="#000" fill-opacity="0.95" stroke="none"/>
<text x="876.2" y="202.92" textLength="14.6" lengthAdjust="spacingAndGlyphs">4180.28</text>
<rect x="873.5" y="215.94" width="2.6" height="0.9" fill="#000" fill-opacity="0.95" stroke="none"/>
<text x="876.2" y="217.89" textLength="14.6" lengthAdjust="spacingAndGlyphs">4173.67</text>
<rect x="873.5" y="230.91" width="2.6" height="0.9" fill="#000" fill-opacity="0.95" stroke="none"/>
<text x="876.2" y="232.85" textLength="14.6" lengthAdjust="spacingAndGlyphs">4167.06</text>
<rect x="873.5" y="245.87" width="2.6" height="0.9" fill="#000" fill-opacity="0.95" stroke="none"/>
<text x="876.2" y="247.82" textLength="14.6" lengthAdjust="spacingAndGlyphs">4160.45</text>
<rect x="873.5" y="260.84" width="2.6" height="0.9" fill="#000" fill-opacity="0.95" stroke="none"/>
<text x="876.2" y="262.79" textLength="14.6" lengthAdjust="spacingAndGlyphs">4153.84</text>
<rect x="873.5" y="275.81" width="2.6" height="0.9" fill="#000" fill-opacity="0.95" stroke="none"/>
<text x="876.2" y="277.76" textLength="14.6" lengthAdjust="spacingAndGlyphs">4147.23</text>
<rect x="873.5" y="290.77" width="2.6" height="0.9" fill="#000" fill-opacity="0.95" stroke="none"/>
<text x="876.2" y="292.72" textLength="14.6" lengthAdjust="spacingAndGlyphs">4140.62</text>
<rect x="873.5" y="305.74" width="2.6" height="0.9" fill="#000" fill-opacity="0.95" stroke="none"/>
<text x="876.2" y="307.69" textLength="14.6" lengthAdjust="spacingAndGlyphs">4134.01</text>
<rect x="873.5" y="320.71" width="2.6" height="0.9" fill="#000" fill-opacity="0.95" stroke="none"/>
<text x="876.2" y="322.66" textLength="14.6" lengthAdjust="spacingAndGlyphs">4127.40</text>
<rect x="873.5" y="336.8" width="2.6" height="0.9" fill="#000" fill-opacity="0.8" stroke="none"/>
<text x="876.5" y="341.3" textLength="12.2" lengthAdjust="spacingAndGlyphs">16.461</text>
<text x="876.3" y="419.6" textLength="11.6" lengthAdjust="spacingAndGlyphs">-5.131</text>
<rect x="873.5" y="420.2" width="2.6" height="0.9" fill="#000" fill-opacity="0.8" stroke="none"/>
</g>
<rect x="874.8" y="96.2" width="18.1" height="5.3" fill="#7c93ad"/>
<text x="876.3" y="100.6" font-size="4.6" fill="#fff" textLength="14.8" lengthAdjust="spacingAndGlyphs">4226.02</text>
<g font-size="4.5" fill="#000" stroke="#000" stroke-width="0.08">
<text x="2.45" y="427.3" textLength="23.6" lengthAdjust="spacingAndGlyphs">26 Nov 2025</text>
<rect x="31.35" y="421" width="0.85" height="3.4" fill="#000" fill-opacity="0.6" stroke="none"/>
<text x="32.35" y="427.3" textLength="26.0" lengthAdjust="spacingAndGlyphs">26 Nov 04:00</text>
<rect x="61.25" y="421" width="0.85" height="3.4" fill="#000" fill-opacity="0.6" stroke="none"/>
<text x="62.25" y="427.3" textLength="26.0" lengthAdjust="spacingAndGlyphs">26 Nov 09:00</text>
<rect x="91.15" y="421" width="0.85" height="3.4" fill="#000" fill-opacity="0.6" stroke="none"/>
<text x="92.15" y="427.3" textLength="26.0" lengthAdjust="spacingAndGlyphs">26 Nov 13:00</text>
<rect x="121.05" y="421" width="0.85" height="3.4" fill="#000" fill-opacity="0.6" stroke="none"/>
<text x="122.05" y="427.3" textLength="26.0" lengthAdjust="spacingAndGlyphs">26 Nov 17:00</text>
<rect x="150.95" y="421" width="0.85" height="3.4" fill="#000" fill-opacity="0.6" stroke="none"/>
<text x="151.95" y="427.3" textLength="26.0" lengthAdjust="spacingAndGlyphs">26 Nov 21:00</text>
<rect x="180.85" y="421" width="0.85" height="3.4" fill="#000" fill-opacity="0.6" stroke="none"/>
<text x="181.85" y="427.3" textLength="26.0" lengthAdjust="spacingAndGlyphs">27 Nov 01:00</text>
<rect x="210.75" y="421" width="0.85" height="3.4" fill="#000" fill-opacity="0.6" stroke="none"/>
<text x="211.75" y="427.3" textLength="26.0" lengthAdjust="spacingAndGlyphs">27 Nov 05:00</text>
<rect x="240.65" y="421" width="0.85" height="3.4" fill="#000" fill-opacity="0.6" stroke="none"/>
<text x="241.65" y="427.3" textLength="26.0" lengthAdjust="spacingAndGlyphs">27 Nov 10:00</text>
<rect x="270.55" y="421" width="0.85" height="3.4" fill="#000" fill-opacity="0.6" stroke="none"/>
<text x="271.55" y="427.3" textLength="26.0" lengthAdjust="spacingAndGlyphs">27 Nov 14:00</text>
<rect x="300.45" y="421" width="0.85" height="3.4" fill="#000" fill-opacity="0.6" stroke="none"/>
<text x="301.45" y="427.3" textLength="26.0" lengthAdjust="spacingAndGlyphs">27 Nov 18:00</text>
<rect x="330.35" y="421" width="0.85" height="3.4" fill="#000" fill-opacity="0.6" stroke="none"/>
<text x="331.35" y="427.3" textLength="26.0" lengthAdjust="spacingAndGlyphs">27 Nov 22:00</text>
<rect x="360.25" y="421" width="0.85" height="3.4" fill="#000" fill-opacity="0.6" stroke="none"/>
<text x="361.25" y="427.3" textLength="26.0" lengthAdjust="spacingAndGlyphs">28 Nov 02:00</text>
<rect x="390.15" y="421" width="0.85" height="3.4" fill="#000" fill-opacity="0.6" stroke="none"/>
<text x="391.15" y="427.3" textLength="26.0" lengthAdjust="spacingAndGlyphs">28 Nov 09:00</text>
<rect x="420.05" y="421" width="0.85" height="3.4" fill="#000" fill-opacity="0.6" stroke="none"/>
<text x="421.05" y="427.3" textLength="26.0" lengthAdjust="spacingAndGlyphs">28 Nov 13:00</text>
<rect x="449.95" y="421" width="0.85" height="3.4" fill="#000" fill-opacity="0.6" stroke="none"/>
<text x="450.95" y="427.3" textLength="26.0" lengthAdjust="spacingAndGlyphs">28 Nov 17:00</text>
<rect x="479.85" y="421" width="0.85" height="3.4" fill="#000" fill-opacity="0.6" stroke="none"/>
<text x="480.85" y="427.3" textLength="26.0" lengthAdjust="spacingAndGlyphs">28 Nov 21:00</text>
<rect x="509.75" y="421" width="0.85" height="3.4" fill="#000" fill-opacity="0.6" stroke="none"/>
<text x="510.75" y="427.3" textLength="26.0" lengthAdjust="spacingAndGlyphs">29 Nov 01:00</text>
<rect x="539.65" y="421" width="0.85" height="3.4" fill="#000" fill-opacity="0.6" stroke="none"/>
<text x="540.65" y="427.3" textLength="22.9" lengthAdjust="spacingAndGlyphs">1 Dec 08:00</text>
<rect x="569.55" y="421" width="0.85" height="3.4" fill="#000" fill-opacity="0.6" stroke="none"/>
<text x="570.55" y="427.3" textLength="22.9" lengthAdjust="spacingAndGlyphs">1 Dec 12:00</text>
<rect x="599.45" y="421" width="0.85" height="3.4" fill="#000" fill-opacity="0.6" stroke="none"/>
<text x="600.45" y="427.3" textLength="22.9" lengthAdjust="spacingAndGlyphs">1 Dec 16:00</text>
<rect x="629.35" y="421" width="0.85" height="3.4" fill="#000" fill-opacity="0.6" stroke="none"/>
<text x="630.35" y="427.3" textLength="22.9" lengthAdjust="spacingAndGlyphs">1 Dec 20:00</text>
<rect x="659.25" y="421" width="0.85" height="3.4" fill="#000" fill-opacity="0.6" stroke="none"/>
<text x="660.25" y="427.3" textLength="22.9" lengthAdjust="spacingAndGlyphs">2 Dec 00:00</text>
<rect x="689.15" y="421" width="0.85" height="3.4" fill="#000" fill-opacity="0.6" stroke="none"/>
<text x="690.15" y="427.3" textLength="22.9" lengthAdjust="spacingAndGlyphs">2 Dec 04:00</text>
</g>
<g>
<path d="M4.9 7.9H7.7V13.7H4.9Q4.1 13.7 4.1 12.9V8.7Q4.1 7.9 4.9 7.9Z" fill="#f0706a"/><path d="M7.7 7.9H10.5Q11.3 7.9 11.3 8.7V12.9Q11.3 13.7 10.5 13.7H7.7Z" fill="#58a6e6"/>
<rect x="5.5" y="8.8" width="0.7" height="4" fill="#fff" fill-opacity="0.55"/><rect x="9.2" y="8.8" width="0.7" height="4" fill="#fff" fill-opacity="0.55"/>
<path d="M14.7 7.9H17.5V13.7H14.7Q13.9 13.7 13.9 12.9V8.7Q13.9 7.9 14.7 7.9Z" fill="#f0706a"/><path d="M17.5 7.9H20.4Q21.2 7.9 21.2 8.7V12.9Q21.2 13.7 20.4 13.7H17.5Z" fill="#58a6e6"/>
<path d="M15 10.4L16.6 11.5L15 12.6Z" fill="#fff"/><path d="M20 10.4L18.4 11.5L20 12.6Z" fill="#fff"/><rect x="16.6" y="8.3" width="1.8" height="1.6" fill="#fff" fill-opacity="0.6"/>
<text x="23.2" y="12.6" font-size="4.9" fill="#000" stroke="#000" stroke-width="0.06" textLength="58.4" lengthAdjust="spacingAndGlyphs">Gold, H1:  Gold vs. US Dollar</text>
<text x="4" y="343.1" font-size="4.6" fill="#000" stroke="#000" stroke-width="0.12" textLength="55" lengthAdjust="spacingAndGlyphs">MACD(6,12,9) -2.762 -1.064</text>
</g>
<path d="M709.6 5.8H715L712.3 8.6Z" fill="#222"/>
</g>
</svg></body></html>
